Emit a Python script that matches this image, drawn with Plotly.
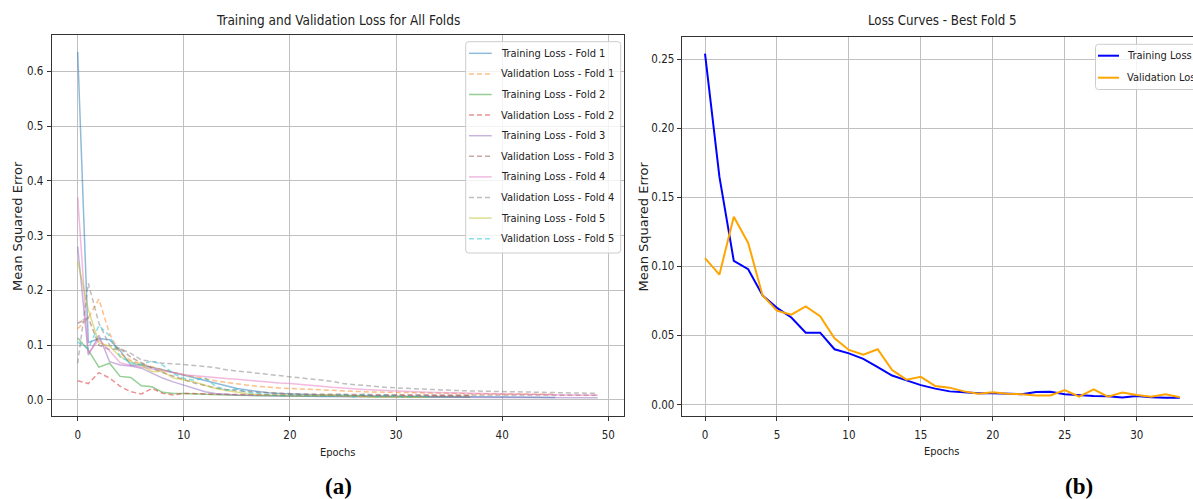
import plotly.graph_objects as go

W, H = 1193, 499

# ---- loss histories per fold (mean squared error per epoch) ----
fold1_train = [0.635, 0.105, 0.112, 0.110, 0.090, 0.064, 0.064, 0.060, 0.055, 0.050,
               0.045, 0.040, 0.035, 0.030, 0.025, 0.021, 0.018, 0.015, 0.013, 0.012,
               0.011, 0.010, 0.0095, 0.009, 0.0085, 0.008, 0.0078, 0.0075, 0.0072, 0.007,
               0.0068, 0.0066, 0.0064, 0.0062, 0.006, 0.0058, 0.0056, 0.0055, 0.0054, 0.0052,
               0.0051, 0.005, 0.0049, 0.0048, 0.0047, 0.0046]
fold1_val = [0.130, 0.150, 0.184, 0.121, 0.085, 0.072, 0.066, 0.060, 0.055, 0.050,
             0.046, 0.042, 0.038, 0.035, 0.032, 0.029, 0.027, 0.025, 0.023, 0.022,
             0.021, 0.020, 0.019, 0.018, 0.017, 0.016, 0.0155, 0.015, 0.0145, 0.014,
             0.0135, 0.013, 0.0128, 0.0125, 0.0122, 0.012, 0.0118, 0.0115, 0.0113, 0.011,
             0.0108, 0.0106, 0.0105, 0.0104, 0.0103, 0.0102]
fold2_train = [0.113, 0.091, 0.060, 0.067, 0.043, 0.041, 0.026, 0.024, 0.014, 0.012,
               0.012, 0.011, 0.010, 0.0095, 0.009, 0.0085, 0.008, 0.0078, 0.0075, 0.0072,
               0.007, 0.0068, 0.0066, 0.0064, 0.0062, 0.006, 0.0058, 0.0056, 0.0055, 0.0054,
               0.0053, 0.0052, 0.0051, 0.005, 0.005, 0.0049, 0.0049, 0.0048]
fold2_val = [0.035, 0.030, 0.050, 0.040, 0.025, 0.015, 0.011, 0.021, 0.012, 0.009,
             0.012, 0.012, 0.011, 0.0105, 0.010, 0.0098, 0.0096, 0.0094, 0.0092, 0.009,
             0.0088, 0.0087, 0.0086, 0.0085, 0.0084, 0.0083, 0.0082, 0.0081, 0.008, 0.008,
             0.0079, 0.0079, 0.0078, 0.0078, 0.0077, 0.0077, 0.0076, 0.0076]
fold3_train = [0.280, 0.082, 0.118, 0.070, 0.064, 0.062, 0.058, 0.049, 0.040, 0.033,
               0.027, 0.021, 0.015, 0.012, 0.010, 0.009, 0.0085, 0.008, 0.0077, 0.0074,
               0.0071, 0.0068, 0.0066, 0.0064, 0.0062, 0.006, 0.0058, 0.0056, 0.0055, 0.0054,
               0.0053, 0.0052, 0.0051, 0.005, 0.0049, 0.0048, 0.0047, 0.0046, 0.0045, 0.0045,
               0.0044, 0.0044, 0.0043, 0.0043, 0.0042, 0.0042, 0.0041, 0.0041, 0.004, 0.004]
fold3_val = [0.140, 0.150, 0.100, 0.092, 0.094, 0.078, 0.068, 0.058, 0.050, 0.043,
             0.037, 0.031, 0.026, 0.022, 0.019, 0.017, 0.015, 0.014, 0.013, 0.012,
             0.0115, 0.011, 0.0107, 0.0104, 0.0102, 0.010, 0.0099, 0.0098, 0.0097, 0.0096,
             0.0095, 0.0094, 0.0093, 0.0093, 0.0092, 0.0092, 0.0091, 0.0091, 0.009, 0.009,
             0.009, 0.0089, 0.0089, 0.0089, 0.0088, 0.0088, 0.0088, 0.0087, 0.0087, 0.0087]
fold4_train = [0.370, 0.085, 0.110, 0.090, 0.068, 0.063, 0.060, 0.057, 0.054, 0.050,
               0.046, 0.044, 0.042, 0.040, 0.039, 0.038, 0.036, 0.034, 0.033, 0.031,
               0.030, 0.028, 0.027, 0.025, 0.023, 0.022, 0.020, 0.019, 0.018, 0.017,
               0.016, 0.015, 0.0145, 0.014, 0.0135, 0.013, 0.0125, 0.012, 0.0115, 0.011,
               0.0108, 0.0105, 0.0102, 0.010, 0.0098, 0.0096, 0.0094, 0.0092, 0.009, 0.0088]
fold4_val = [0.067, 0.213, 0.140, 0.100, 0.094, 0.085, 0.073, 0.070, 0.067, 0.066,
             0.065, 0.063, 0.061, 0.059, 0.055, 0.053, 0.051, 0.049, 0.047, 0.045,
             0.043, 0.041, 0.039, 0.037, 0.034, 0.030, 0.028, 0.026, 0.025, 0.023,
             0.022, 0.021, 0.020, 0.019, 0.018, 0.0175, 0.017, 0.0165, 0.016, 0.0155,
             0.015, 0.0145, 0.014, 0.0138, 0.0135, 0.0132, 0.013, 0.0127, 0.0124, 0.012]
fold5_train = [0.254, 0.165, 0.104, 0.098, 0.079, 0.070, 0.063, 0.052, 0.052, 0.040,
               0.037, 0.033, 0.027, 0.021, 0.0175, 0.014, 0.0115, 0.0095, 0.0088, 0.0081,
               0.0081, 0.0078, 0.0075, 0.009, 0.0093, 0.0075, 0.0068, 0.0062, 0.0060, 0.0050,
               0.0062, 0.0052, 0.0049, 0.0049]
fold5_val = [0.106, 0.094, 0.136, 0.117, 0.079, 0.068, 0.065, 0.071, 0.064, 0.048,
             0.0395, 0.036, 0.040, 0.025, 0.018, 0.020, 0.0134, 0.0122, 0.0095, 0.0078,
             0.0088, 0.0078, 0.0075, 0.0066, 0.0066, 0.0105, 0.0057, 0.011, 0.0057, 0.0086,
             0.0069, 0.0057, 0.0074, 0.0052]

series_names = ["Training Loss - Fold 1", "Validation Loss - Fold 1",
                "Training Loss - Fold 2", "Validation Loss - Fold 2",
                "Training Loss - Fold 3", "Validation Loss - Fold 3",
                "Training Loss - Fold 4", "Validation Loss - Fold 4",
                "Training Loss - Fold 5", "Validation Loss - Fold 5"]
series_values = [fold1_train, fold1_val, fold2_train, fold2_val, fold3_train,
                 fold3_val, fold4_train, fold4_val, fold5_train, fold5_val]

best_names = ["Training Loss", "Validation Loss"]
best_values = [fold5_train, fold5_val]

# ---- styling ----
FONT = "DejaVu Sans Condensed, DejaVu Sans, sans-serif"
FONT_V = "DejaVu Sans, sans-serif"
TAB10 = ["31,119,180", "255,127,14", "44,160,44", "214,39,40", "148,103,189",
         "140,86,75", "227,119,194", "127,127,127", "188,189,34", "23,190,207"]
ALPHA = 0.5
DASH = "5px,3px"
BEST_COLORS = ["#0000ff", "#ffa500"]
SPINE = "#333333"
GRID = "#c0c0c0"


def px(x):
    return x / W


def py(y):
    return 1 - y / H


fig = go.Figure()

for i, (name, vals) in enumerate(zip(series_names, series_values)):
    fig.add_trace(go.Scatter(
        x=list(range(len(vals))), y=vals, mode="lines", name=name,
        line=dict(color=f"rgba({TAB10[i]},{ALPHA})", width=1.5,
                  dash="solid" if i % 2 == 0 else DASH),
        xaxis="x", yaxis="y", showlegend=False))

for name, vals, col in zip(best_names, best_values, BEST_COLORS):
    fig.add_trace(go.Scatter(
        x=list(range(len(vals))), y=vals, mode="lines", name=name,
        line=dict(color=col, width=2), xaxis="x2", yaxis="y2", showlegend=False))

axis_common = dict(
    showline=True, linecolor=SPINE, linewidth=1,
    showgrid=True, gridcolor=GRID, gridwidth=1.2, zeroline=False,
    ticks="outside", ticklen=4, tickwidth=1, tickcolor=SPINE,
    tickfont=dict(family=FONT, size=11.5, color="#222222"),
)

fig.update_layout(
    width=W, height=H, margin=dict(l=0, r=0, t=0, b=0, pad=0),
    paper_bgcolor="white", plot_bgcolor="white", showlegend=False,
    xaxis=dict(domain=[px(51.7), px(623.7)], range=[-2.45, 51.45],
               dtick=10, tick0=0, mirror=True, anchor="y", ticklabelstandoff=4,
               **axis_common),
    yaxis=dict(domain=[py(415.7), py(35)], range=[-0.0287, 0.6661],
               dtick=0.1, tick0=0, tickformat=".1f", mirror=True, anchor="x",
               ticklabelstandoff=1, **axis_common),
    xaxis2=dict(domain=[px(681.7), 1.0], range=[-1.62, 33.91],
                dtick=5, tick0=0, mirror=True, anchor="y2", ticklabelstandoff=4,
                **axis_common),
    yaxis2=dict(domain=[py(416), py(37.3)], range=[-0.00833, 0.2659],
                dtick=0.05, tick0=0, tickformat=".2f", mirror=False, anchor="x2",
                **axis_common),
)

annotations = []
shapes = []


def text(x, y, s, size=11, anchor="center", angle=0, family=FONT, bold=False,
         color="#222222"):
    annotations.append(dict(
        xref="paper", yref="paper", x=px(x), y=py(y), text=f"<b>{s}</b>" if bold else s,
        showarrow=False, xanchor=anchor, yanchor="middle", textangle=angle,
        font=dict(family=family, size=size, color=color)))


# titles, axis labels, panel captions
text(337.7, 20, "Training and Validation Loss for All Folds", size=13.5)
text(942.9, 20, "Loss Curves - Best Fold 5", size=13.2)
text(337.7, 452, "Epochs")
text(941.7, 451, "Epochs")
text(17, 226, "Mean Squared Error", size=13, angle=-90, family=FONT_V)
text(643, 226.5, "Mean Squared Error", size=13, angle=-90, family=FONT_V)
text(338, 486, "(a)", size=23, family="Liberation Serif, serif", bold=True, color="#000")
text(1079, 486, "(b)", size=23, family="Liberation Serif, serif", bold=True, color="#000")


def rounded_box(x0, y0, x1, y1, r=3):
    X0, X1 = px(x0), px(x1)
    Y0, Y1 = py(y0), py(y1)
    rx, ry = r / W, r / H
    return (f"M {X0 + rx},{Y0} L {X1 - rx},{Y0} Q {X1},{Y0} {X1},{Y0 - ry} "
            f"L {X1},{Y1 + ry} Q {X1},{Y1} {X1 - rx},{Y1} L {X0 + rx},{Y1} "
            f"Q {X0},{Y1} {X0},{Y1 + ry} L {X0},{Y0 - ry} Q {X0},{Y0} {X0 + rx},{Y0} Z")


# legend for the all-folds panel
shapes.append(dict(type="path", xref="paper", yref="paper",
                   path=rounded_box(465.7, 41.7, 620.7, 253),
                   fillcolor="rgba(255,255,255,0.8)",
                   line=dict(color="#cccccc", width=1)))
for i, name in enumerate(series_names):
    yy = 53.3 + 20.6 * i
    shapes.append(dict(type="line", xref="paper", yref="paper",
                       x0=px(469), x1=px(491.7), y0=py(yy), y1=py(yy),
                       line=dict(color=f"rgba({TAB10[i]},{ALPHA})", width=1.5,
                                 dash="solid" if i % 2 == 0 else DASH)))
    text(499, yy, name, anchor="left")

# legend for the best-fold panel
shapes.append(dict(type="path", xref="paper", yref="paper",
                   path=rounded_box(1095.5, 44.3, 1206, 89.5),
                   fillcolor="rgba(255,255,255,0.8)",
                   line=dict(color="#cccccc", width=1)))
for i, (name, col) in enumerate(zip(best_names, BEST_COLORS)):
    yy = 55.7 + 22 * i
    shapes.append(dict(type="line", xref="paper", yref="paper",
                       x0=px(1098), x1=px(1119), y0=py(yy), y1=py(yy),
                       line=dict(color=col, width=2)))
    text(1125, yy, name, anchor="left")

fig.update_layout(annotations=annotations, shapes=shapes)

fig.write_html("out.html")
